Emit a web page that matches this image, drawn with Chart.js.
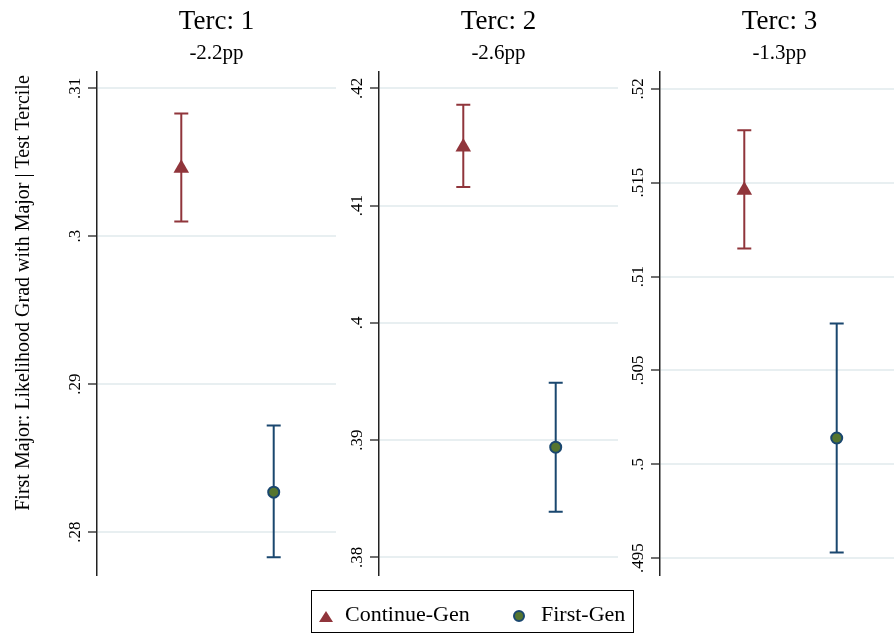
<!DOCTYPE html>
<html>
<head>
<meta charset="utf-8">
<script src="https://cdn.jsdelivr.net/npm/chart.js@4/dist/chart.umd.min.js"></script>
<style>
    html, body { margin: 0; padding: 0; background: #fff; overflow: hidden; }
    body { width: 894px; height: 635px; position: relative; font-family: "Liberation Serif", "DejaVu Serif", serif; }
    canvas { position: absolute; top: 0; }
    .legend { position: absolute; left: 311px; top: 590px; width: 323px; height: 43px; box-sizing: border-box; border: 1px solid #000; }
    .legend span { position: absolute; font-size: 22px; line-height: 22px; color: #000; white-space: nowrap; }
    .tri { position: absolute; width: 0; height: 0; border-left: 7.5px solid transparent; border-right: 7.5px solid transparent; border-bottom: 11px solid #90353B; }
    .dot { position: absolute; width: 12px; height: 12px; box-sizing: border-box; border-radius: 50%; background: #55752F; border: 2px solid #1A476F; }
</style>
</head>
<body>
<canvas id="panel0" width="345" height="635" style="left:0px"></canvas>
<canvas id="panel1" width="308" height="635" style="left:319px"></canvas>
<canvas id="panel2" width="308" height="635" style="left:600px"></canvas>
<div class="legend">
    <div class="tri" style="left:7px; top:20px"></div>
    <span style="left:33px; top:12px">Continue-Gen</span>
    <div class="dot" style="left:201px; top:19px"></div>
    <span style="left:229px; top:12px">First-Gen</span>
</div>
<script>
// Data
const terciles = ['Terc: 1', 'Terc: 2', 'Terc: 3'];
const gapLabels = ['-2.2pp', '-2.6pp', '-1.3pp'];
const groups = ['Continue-Gen', 'First-Gen'];
const groupX = [1, 2];

const contMean = [0.3046, 0.4150, 0.5146];
const contLo = [0.3010, 0.4116, 0.5115];
const contHi = [0.3083, 0.4186, 0.5178];

const firstMean = [0.2827, 0.3894, 0.5014];
const firstLo = [0.2783, 0.3839, 0.4953];
const firstHi = [0.2872, 0.3949, 0.5075];

const yTicks = [
    [0.28, 0.29, 0.30, 0.31],
    [0.38, 0.39, 0.40, 0.41, 0.42],
    [0.495, 0.50, 0.505, 0.51, 0.515, 0.52]
];
const yMin = [0.2771, 0.3785, 0.4941];
const yMax = [0.3111, 0.4214, 0.5209];
const yTitle = 'First Major: Likelihood Grad with Major | Test Tercile';

// Colors (Stata s2color)
const maroon = '#90353B';
const navy = '#1A476F';
const forest = '#55752F';

// width of the left axis strip in each canvas
const axisStrip = [97, 60, 60];

const fmtTick = v => String(v).replace(/^0/, '');

// error bars, rotated tick labels, titles
const panelDecor = {
    id: 'panelDecor',
    beforeDatasetsDraw(chart) {
        const ctx = chart.ctx;
        const xs = chart.scales.x, ys = chart.scales.y;
        chart.data.datasets.forEach(ds => {
            const x = xs.getPixelForValue(ds.data[0].x);
            const yl = ys.getPixelForValue(ds.ciLo);
            const yh = ys.getPixelForValue(ds.ciHi);
            ctx.save();
            ctx.strokeStyle = ds.barColor;
            ctx.lineWidth = 2;
            ctx.beginPath();
            ctx.moveTo(x, yl); ctx.lineTo(x, yh);
            ctx.moveTo(x - 7, yl); ctx.lineTo(x + 7, yl);
            ctx.moveTo(x - 7, yh); ctx.lineTo(x + 7, yh);
            ctx.stroke();
            ctx.restore();
        });
    },
    afterDraw(chart, args, opts) {
        const ctx = chart.ctx;
        const ca = chart.chartArea;
        const ys = chart.scales.y;
        ctx.save();
        ctx.fillStyle = '#000';
        // tick labels, rotated
        ctx.font = '17px "Liberation Serif"';
        ctx.textAlign = 'center';
        ctx.textBaseline = 'alphabetic';
        ys.ticks.forEach(t => {
            ctx.save();
            ctx.translate(ca.left - 17, ys.getPixelForValue(t.value));
            ctx.rotate(-Math.PI / 2);
            ctx.fillText(fmtTick(t.value), 0, 0);
            ctx.restore();
        });
        // titles
        const cx = (ca.left + ca.right) / 2;
        ctx.font = '27px "Liberation Serif"';
        ctx.fillText(opts.title, cx, 29);
        ctx.font = '21px "Liberation Serif"';
        ctx.fillText(opts.subtitle, cx, 59);
        // y axis title, first panel only
        if (opts.yTitle) {
            ctx.save();
            ctx.translate(29, 293);
            ctx.rotate(-Math.PI / 2);
            ctx.font = '20px "Liberation Serif"';
            ctx.fillText(opts.yTitle, 0, 0);
            ctx.restore();
        }
        ctx.restore();
    }
};

for (let i = 0; i < 3; i++) {
    new Chart(document.getElementById('panel' + i), {
        type: 'scatter',
        data: {
            datasets: [{
                label: groups[0],
                data: [{x: groupX[0], y: contMean[i]}],
                ciLo: contLo[i],
                ciHi: contHi[i],
                barColor: maroon,
                pointStyle: 'triangle',
                radius: 9,
                backgroundColor: maroon,
                borderColor: maroon,
                borderWidth: 0
            }, {
                label: groups[1],
                data: [{x: groupX[1], y: firstMean[i]}],
                ciLo: firstLo[i],
                ciHi: firstHi[i],
                barColor: navy,
                pointStyle: 'circle',
                radius: 5.5,
                backgroundColor: forest,
                borderColor: navy,
                borderWidth: 2
            }]
        },
        plugins: [panelDecor],
        options: {
            responsive: false,
            animation: false,
            events: [],
            layout: {
                padding: {top: 72, bottom: 60, left: 0, right: 0}
            },
            scales: {
                x: {
                    type: 'linear',
                    display: false,
                    min: 0.088,
                    max: 2.674
                },
                y: {
                    type: 'linear',
                    min: yMin[i],
                    max: yMax[i],
                    afterBuildTicks: function (scale) {
                        scale.ticks = yTicks[i].map(v => ({value: v}));
                    },
                    afterFit: function (scale) {
                        scale.width = axisStrip[i];
                    },
                    ticks: {
                        display: false
                    },
                    grid: {
                        color: '#e8eff1',
                        lineWidth: 2,
                        tickColor: '#222',
                        tickLength: 9,
                        tickWidth: 1.3
                    },
                    border: {
                        display: true,
                        color: '#222',
                        width: 1.5
                    }
                }
            },
            plugins: {
                legend: { display: false },
                tooltip: { enabled: false },
                panelDecor: {
                    title: terciles[i],
                    subtitle: gapLabels[i],
                    yTitle: i === 0 ? yTitle : null
                }
            }
        }
    });
}
</script>
</body>
</html>
